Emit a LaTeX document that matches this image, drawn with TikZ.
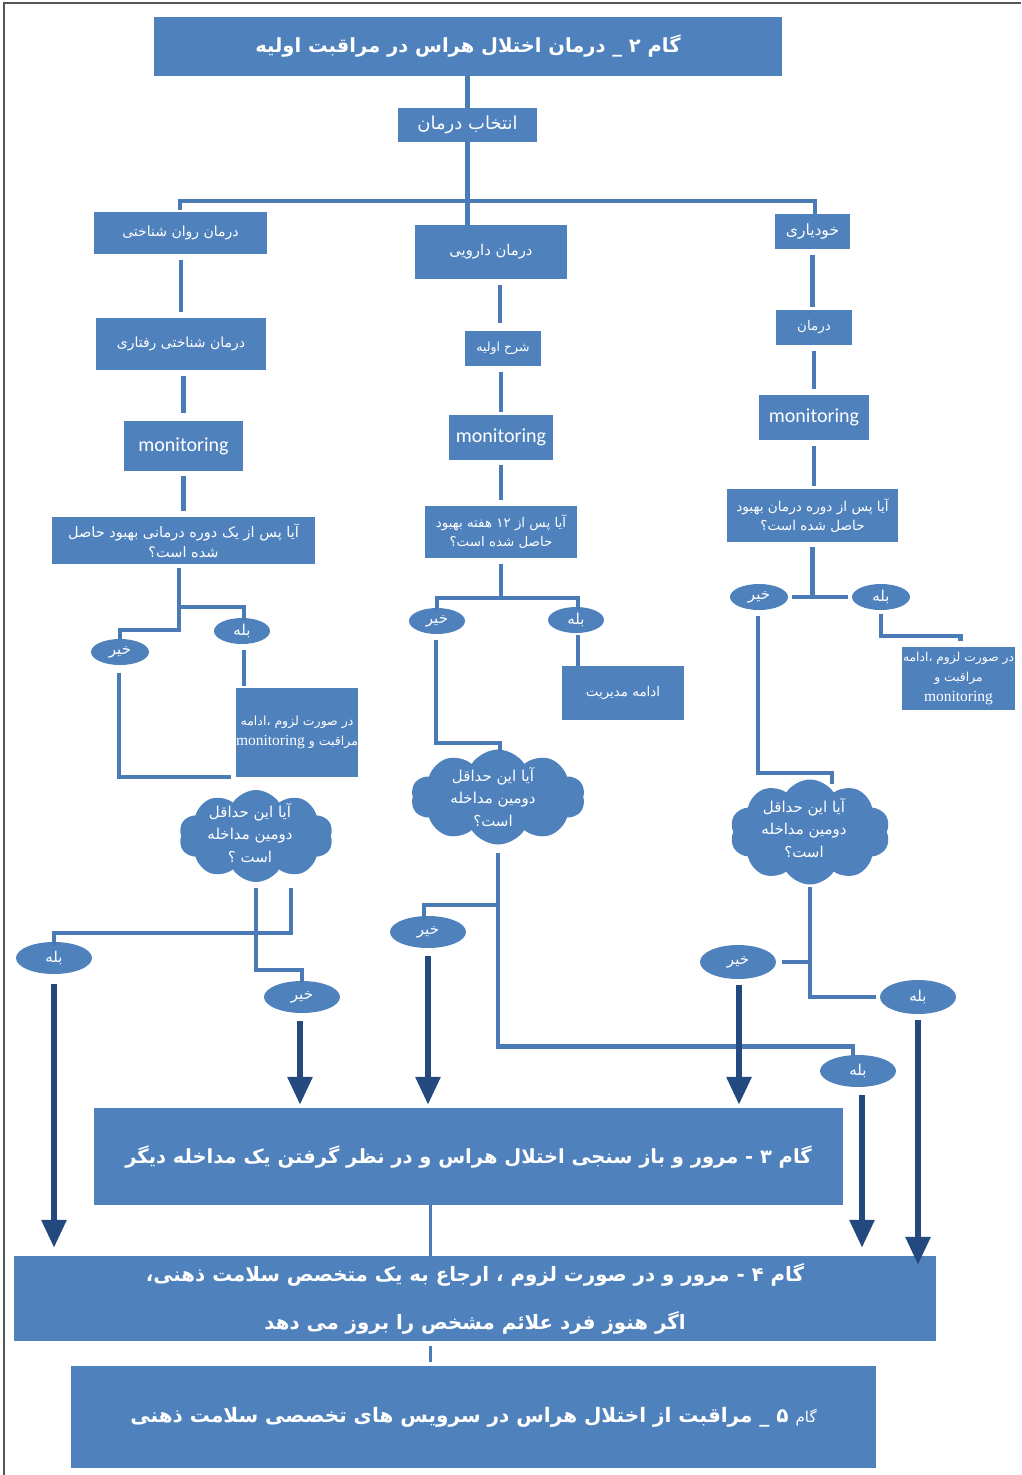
\documentclass[tikz,border=0pt]{standalone}
\usepackage{fontspec}
\usetikzlibrary{shapes.geometric,shapes.symbols,arrows.meta}
\TeXXeTstate=1
\newfontfamily\fafont[Script=Arabic]{DejaVu Sans}
\newfontfamily\calfont{Carlito}
\newfontfamily\serfont{Liberation Serif}
\newcommand\fa[1]{{\fafont\beginR #1\endR}}
\newcommand\fs[2]{\fontsize{#1}{#2}\selectfont}
\definecolor{boxblue}{HTML}{4F81BD}
\definecolor{linecol}{HTML}{4A7BB7}
\definecolor{arrcol}{HTML}{24497E}
\definecolor{framecol}{HTML}{555555}
\tikzset{
  box/.style={fill=boxblue, draw=none, text=white, inner sep=0pt, align=center, font=\fafont\fs{14}{19}},
  bigbox/.style={box, font=\fafont\bfseries\fs{19.5}{30}},
  mon/.style={box, font=\calfont\fs{20}{22}},
  oval/.style={ellipse, fill=boxblue, draw=none, text=white, inner sep=0pt, font=\fafont\fs{15}{16}},
  puff/.style={cloud, cloud puffs=10, cloud puff arc=115, cloud ignores aspect, fill=boxblue, draw=none, inner sep=0pt},
  cloudtext/.style={text=white, align=center, inner sep=0pt, font=\fafont\fs{15}{22.5}},
  conn/.style={draw=linecol, line width=4.5pt},
  thinconn/.style={draw=linecol, line width=3pt},
  arr/.style={draw=arrcol, line width=6pt, -{Triangle[length=28pt,width=24pt]}},
}
\begin{document}
\begin{tikzpicture}[x=1pt,y=-1pt]
\useasboundingbox (0,0) rectangle (1021,1475);
\draw[framecol, line width=1.5pt] (4,1475) -- (4,3) -- (1021,3);

% ---------- top ----------
\node[bigbox, minimum width=628pt, minimum height=59pt] (top) at (468,46.5) {\fa{گام ۲ \_ درمان اختلال هراس در مراقبت اولیه}};
\node[box, minimum width=139pt, minimum height=34pt, font=\fafont\fs{18}{20}] (choose) at (467.5,125) {\fa{انتخاب درمان}};

% ---------- left column ----------
\node[box, minimum width=173pt, minimum height=42pt] (psy) at (180.5,233) {\fa{درمان روان شناختی}};
\node[box, minimum width=170pt, minimum height=52pt] (cbt) at (181,344) {\fa{درمان شناختی رفتاری}};
\node[mon, minimum width=119pt, minimum height=50pt] (monL) at (183.5,446) {monitoring};
\node[box, minimum width=263pt, minimum height=47pt, font=\fafont\fs{14.5}{20}] (qL) at (183.5,540.5) {\fa{آیا پس از یک دوره درمانی بهبود حاصل}\\\fa{شده است؟}};
\node[oval, minimum width=56pt, minimum height=26pt] (yesL) at (242,631) {\fa{بله}};
\node[oval, minimum width=58pt, minimum height=26pt] (noL) at (120,652) {\fa{خیر}};
\node[box, minimum width=122pt, minimum height=89pt, font=\fafont\fs{12.5}{20}] (contL) at (297,732.5) {\fa{در صورت لزوم ،ادامه}\\\fa{مراقبت و \beginL{\serfont\fs{15.5}{18}monitoring}\endL}};
\node[puff, minimum width=154pt, minimum height=92pt] (cloudL) at (256,836) {};
\node[cloudtext] (cloudLt) at (250,833) {\fa{آیا این حداقل}\\\fa{دومین مداخله}\\\fa{است ؟}};
\node[oval, minimum width=76pt, minimum height=32pt] (yesL2) at (54,958) {\fa{بله}};
\node[oval, minimum width=76pt, minimum height=32pt] (noL2) at (302,997) {\fa{خیر}};

% ---------- middle column ----------
\node[box, minimum width=152pt, minimum height=54pt, font=\fafont\fs{14.8}{19}] (drug) at (491,252) {\fa{درمان دارویی}};
\node[box, minimum width=76pt, minimum height=35pt, font=\fafont\fs{12.5}{19}] (init) at (503,348.5) {\fa{شرح اولیه}};
\node[mon, minimum width=104pt, minimum height=45pt] (monM) at (501,437.5) {monitoring};
\node[box, minimum width=152pt, minimum height=52pt, font=\fafont\fs{13.4}{19}] (qM) at (501,532) {\fa{آیا پس از ۱۲ هفته بهبود}\\\fa{حاصل شده است؟}};
\node[oval, minimum width=56pt, minimum height=26pt] (noM) at (437,621) {\fa{خیر}};
\node[oval, minimum width=56pt, minimum height=26pt] (yesM) at (576,620) {\fa{بله}};
\node[box, minimum width=122pt, minimum height=54pt, font=\fafont\fs{13.4}{19}] (mgmt) at (623,693) {\fa{ادامه مدیریت}};
\node[puff, minimum width=174pt, minimum height=95pt] (cloudM) at (498,797) {};
\node[cloudtext] (cloudMt) at (493,797) {\fa{آیا این حداقل}\\\fa{دومین مداخله}\\\fa{است؟}};
\node[oval, minimum width=76pt, minimum height=32pt] (noM2) at (428,932) {\fa{خیر}};
\node[oval, minimum width=76pt, minimum height=32pt] (yesM2) at (858,1071) {\fa{بله}};

% ---------- right column ----------
\node[box, minimum width=75pt, minimum height=35pt, font=\fafont\fs{15.5}{19}] (self) at (812.5,231.5) {\fa{خودیاری}};
\node[box, minimum width=76pt, minimum height=35pt, font=\fafont\fs{13.4}{19}] (treat) at (814,327.5) {\fa{درمان}};
\node[mon, minimum width=110pt, minimum height=45pt] (monR) at (814,417.5) {monitoring};
\node[box, minimum width=171pt, minimum height=53pt, font=\fafont\fs{13.6}{19}] (qR) at (812.5,515.5) {\fa{آیا پس از دوره درمان بهبود}\\\fa{حاصل شده است؟}};
\node[oval, minimum width=58pt, minimum height=26pt] (noR) at (759,597) {\fa{خیر}};
\node[oval, minimum width=58pt, minimum height=26pt] (yesR) at (881,597) {\fa{بله}};
\node[box, minimum width=113pt, minimum height=63pt, font=\fafont\fs{12.3}{20}] (contR) at (958.5,678.5) {\fa{در صورت لزوم ،ادامه}\\\fa{مراقبت و}\\{\serfont\fs{15.5}{18}monitoring}};
\node[puff, minimum width=160pt, minimum height=105pt] (cloudR) at (810,832) {};
\node[cloudtext] (cloudRt) at (804,828) {\fa{آیا این حداقل}\\\fa{دومین مداخله}\\\fa{است؟}};
\node[oval, minimum width=76pt, minimum height=34pt] (noR2) at (738,962) {\fa{خیر}};
\node[oval, minimum width=76pt, minimum height=34pt] (yesR2) at (918,997) {\fa{بله}};

% ---------- bottom ----------
\node[bigbox, minimum width=749pt, minimum height=97pt] (step3) at (468.5,1156.5) {\fa{گام ۳ - مرور و باز سنجی اختلال هراس و در نظر گرفتن یک مداخله دیگر}};
\node[bigbox, minimum width=922pt, minimum height=85pt, font=\fafont\bfseries\fs{19.8}{48}] (step4) at (475,1298.5) {\fa{گام ۴ - مرور و در صورت لزوم ، ارجاع به یک متخصص سلامت ذهنی،}\\\fa{اگر هنوز فرد علائم مشخص را بروز می دهد}};
\node[bigbox, minimum width=805pt, minimum height=102pt, font=\fafont\bfseries\fs{20}{30}] (step5) at (473.5,1417) {\fa{{\mdseries\fs{15}{18}گام} ۵ \_ مراقبت از اختلال هراس در سرویس های تخصصی سلامت ذهنی}};

% ---------- connectors: top ----------
\draw[conn] (top.south -| choose) -- (choose.north);
\draw[conn] (choose.south) -- (choose.south |- drug.north);
\coordinate (barL) at (180,201);
\coordinate (barR) at (815,201);
\draw[conn, shorten <=2pt] (barL |- psy.north) -- (barL) -- (barR) -- (barR |- self.north);

% ---------- connectors: left ----------
\draw[conn, shorten <=6pt, shorten >=6pt] (psy.south -| cbt) -- (cbt.north);
\draw[conn, shorten <=6pt, shorten >=8pt] (cbt.south -| monL) -- (monL.north);
\draw[conn, shorten <=5pt, shorten >=6pt] (monL.south) -- (monL.south |- qL.north);
\coordinate (jL1) at (179,607);
\coordinate (jL2) at (179,630);
\draw[conn] ([yshift=-4pt]qL.south -| jL1) -- (jL2) -| ([yshift=-1pt]noL.north);
\draw[conn] (jL1) -| ([xshift=2pt,yshift=-2pt]yesL.north);
\draw[conn, shorten <=6pt, shorten >=2pt] ([xshift=2pt]yesL.south) -- ([xshift=2pt]yesL.south |- contL.north);
\draw[conn, shorten <=8pt, shorten >=5pt] ([xshift=-1pt]noL.south) |- (contL.south west);
\draw[conn] ([xshift=35pt,yshift=-6pt]cloudL.south) -- ++(0,45) -| ([yshift=-4pt]yesL2.north);
\draw[conn] ([yshift=-6pt]cloudL.south) -- ++(0,82) -| ([yshift=-2pt]noL2.north);
\draw[arr, shorten <=10pt, shorten >=8pt] (yesL2.south) -- (yesL2.south |- step4.north);
\draw[arr, shorten <=8pt, shorten >=3pt] ([xshift=-2pt]noL2.south) -- ([xshift=-2pt]noL2.south |- step3.north);

% ---------- connectors: middle ----------
\draw[conn, shorten <=6pt, shorten >=8pt] (drug.south -| 500,0) -- (init.north -| 500,0);
\draw[conn, shorten <=6pt, shorten >=3pt] (init.south -| monM) -- (monM.north);
\draw[conn, shorten <=5pt, shorten >=6pt] (monM.south) -- (monM.south |- qM.north);
\draw[conn] ([yshift=-6pt]qM.south) -- ++(0,34) coordinate (jM);
\draw[conn] ([yshift=-3pt]noM.north) |- (jM) -| ([xshift=2pt,yshift=-3pt]yesM.north);
\draw[conn, shorten <=2pt] ([xshift=2pt]yesM.south) -- ([xshift=2pt]yesM.south |- mgmt.north);
\draw[conn, shorten <=6pt] ([xshift=-1pt]noM.south) -- ++(0,109) -| ([xshift=2pt,yshift=-3pt]cloudM.north);
\draw[conn] ([yshift=-8pt]cloudM.south) -- ++(0,194) -| ([xshift=-5pt,yshift=-2pt]yesM2.north);
\coordinate (jM2) at ([yshift=-60.5pt]cloudM.south);
\draw[conn] (jM2) -| ([xshift=-4pt,yshift=-4pt]noM2.north);
\draw[arr, shorten <=8pt, shorten >=3pt] (noM2.south) -- (noM2.south |- step3.north);
\draw[arr, shorten <=8pt, shorten >=8pt] ([xshift=4pt]yesM2.south) -- ([xshift=4pt]yesM2.south |- step4.north);

% ---------- connectors: right ----------
\draw[conn] (barR |- self.north) -- ([yshift=4pt]barR |- self.north);
\draw[conn, shorten <=6pt, shorten >=3pt] (self.south) -- (self.south |- treat.north);
\draw[conn, shorten <=6pt, shorten >=6pt] (treat.south) -- (treat.south |- monR.north);
\draw[conn, shorten <=6pt, shorten >=3pt] (monR.south) -- (monR.south |- qR.north);
\draw[conn] ([yshift=-5pt]qR.south) -- (qR.south |- noR.east);
\draw[conn, shorten <=4pt, shorten >=4pt] (noR.east) -- (yesR.west);
\draw[conn, shorten <=4pt] (yesR.south) -- ++(0,26) -| ([xshift=2pt,yshift=6pt]contR.north);
\draw[conn, shorten <=6pt] ([xshift=-1pt]noR.south) -- ++(0,163) -| ([xshift=22pt,yshift=-5pt]cloudR.north);
\draw[conn, shorten >=4pt] ([yshift=-2pt]cloudR.south) |- (yesR2.west);
\draw[conn, shorten >=6pt] (cloudR.south |- noR2.east) -- (noR2.east);
\draw[arr, shorten <=6pt, shorten >=3pt] ([xshift=1pt]noR2.south) -- ([xshift=1pt]noR2.south |- step3.north);
\draw[arr, shorten <=6pt] (yesR2.south) -- ([yshift=-9pt]yesR2.south |- step4.north);

% ---------- connectors: bottom ----------
\draw[thinconn] ([xshift=-38.5pt]step3.south) -- ([xshift=-38.5pt]step3.south |- step4.north);
\draw[thinconn, shorten <=5pt, shorten >=4pt] ([xshift=-45pt]step4.south) -- ([xshift=-45pt]step4.south |- step5.north);
\end{tikzpicture}
\end{document}
